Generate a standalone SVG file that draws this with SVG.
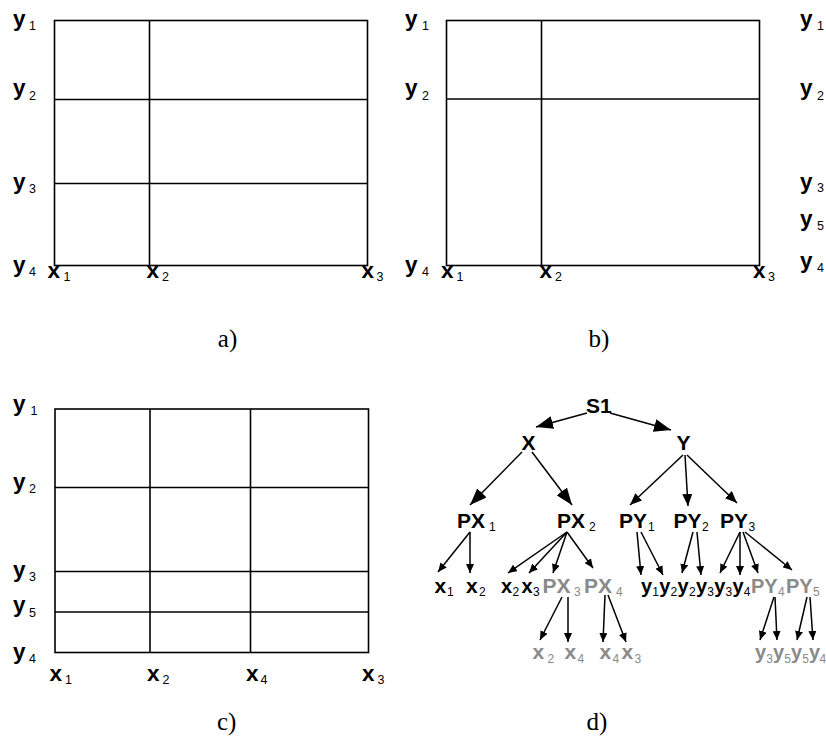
<svg xmlns="http://www.w3.org/2000/svg" width="826" height="738" viewBox="0 0 826 738">
<style>
.grid{fill:none;stroke:#000;stroke-width:1.6}
.lbl{font-family:"Liberation Sans",Arial,sans-serif;font-weight:bold;font-size:21px;fill:#000}
.gl{font-size:22.5px}
.lf{font-size:20px}
.sub{font-weight:normal;font-size:12px}
.gs{font-size:12.5px}
.g{fill:#8a8a8a}
.cap{font-family:"Liberation Serif","Times New Roman",serif;font-size:25px;fill:#000;text-anchor:middle}
.arr{stroke:#000;stroke-width:1.5;fill:none}
.big{marker-end:url(#hb)}
.mid{marker-end:url(#hm)}
.sm{marker-end:url(#hs)}
</style>
<defs>
<marker id="hb" markerUnits="userSpaceOnUse" viewBox="0 0 17 13" markerWidth="17" markerHeight="13" refX="17" refY="6.5" orient="auto"><path d="M0,0 L17,6.5 L0,13 z" fill="#000"/></marker>
<marker id="hm" markerUnits="userSpaceOnUse" viewBox="0 0 12 10" markerWidth="12" markerHeight="10" refX="12" refY="5" orient="auto"><path d="M0,0 L12,5 L0,10 z" fill="#000"/></marker>
<marker id="hs" markerUnits="userSpaceOnUse" viewBox="0 0 9 8" markerWidth="9" markerHeight="8" refX="9" refY="4" orient="auto"><path d="M0,0 L9,4 L0,8 z" fill="#000"/></marker>
</defs>
<rect width="826" height="738" fill="#fff"/>

<!-- Panel a -->
<g id="panel-a">
<rect class="grid" x="54.5" y="20.5" width="313" height="245"/>
<line class="grid" x1="149.5" y1="20.5" x2="149.5" y2="265.5"/>
<line class="grid" x1="54.5" y1="99.5" x2="367.5" y2="99.5"/>
<line class="grid" x1="54.5" y1="183.5" x2="367.5" y2="183.5"/>
<text class="lbl gl" x="13" y="26">y<tspan class="sub gs" x="29" y="30">1</tspan></text>
<text class="lbl gl" x="13" y="95">y<tspan class="sub gs" x="29" y="100">2</tspan></text>
<text class="lbl gl" x="13" y="189">y<tspan class="sub gs" x="29" y="193">3</tspan></text>
<text class="lbl gl" x="13" y="272">y<tspan class="sub gs" x="29" y="276">4</tspan></text>
<text class="lbl gl" x="47.5" y="278">x<tspan class="sub gs" x="63.5" y="280.5">1</tspan></text>
<text class="lbl gl" x="146.5" y="278">x<tspan class="sub gs" x="162" y="280.5">2</tspan></text>
<text class="lbl gl" x="361.5" y="278">x<tspan class="sub gs" x="376.5" y="280.5">3</tspan></text>
<text class="cap" x="227.5" y="347">a)</text>
</g>

<!-- Panel b -->
<g id="panel-b">
<rect class="grid" x="446.5" y="20.5" width="313" height="245"/>
<line class="grid" x1="541.5" y1="20.5" x2="541.5" y2="265.5"/>
<line class="grid" x1="446.5" y1="99" x2="759.5" y2="99"/>
<text class="lbl gl" x="405" y="26">y<tspan class="sub gs" x="422" y="30">1</tspan></text>
<text class="lbl gl" x="405" y="95">y<tspan class="sub gs" x="422" y="100">2</tspan></text>
<text class="lbl gl" x="405" y="272">y<tspan class="sub gs" x="422" y="276">4</tspan></text>
<text class="lbl gl" x="441" y="278">x<tspan class="sub gs" x="456.5" y="280.5">1</tspan></text>
<text class="lbl gl" x="539.5" y="278">x<tspan class="sub gs" x="555" y="280.5">2</tspan></text>
<text class="lbl gl" x="753" y="278">x<tspan class="sub gs" x="768" y="280.5">3</tspan></text>
<text class="lbl gl" x="800" y="26">y<tspan class="sub gs" x="817" y="30">1</tspan></text>
<text class="lbl gl" x="800" y="95">y<tspan class="sub gs" x="817" y="100">2</tspan></text>
<text class="lbl gl" x="800" y="189">y<tspan class="sub gs" x="817" y="192">3</tspan></text>
<text class="lbl gl" x="800" y="225.5">y<tspan class="sub gs" x="817" y="230">5</tspan></text>
<text class="lbl gl" x="800" y="268">y<tspan class="sub gs" x="817" y="272">4</tspan></text>
<text class="cap" x="599" y="347">b)</text>
</g>

<!-- Panel c -->
<g id="panel-c">
<rect class="grid" x="55" y="409" width="313.5" height="243.5"/>
<line class="grid" x1="150" y1="409" x2="150" y2="652.5"/>
<line class="grid" x1="250.5" y1="409" x2="250.5" y2="652.5"/>
<line class="grid" x1="55" y1="487.5" x2="368.5" y2="487.5"/>
<line class="grid" x1="55" y1="571.5" x2="368.5" y2="571.5"/>
<line class="grid" x1="55" y1="612" x2="368.5" y2="612"/>
<text class="lbl gl" x="13" y="411">y<tspan class="sub gs" x="30.5" y="415">1</tspan></text>
<text class="lbl gl" x="13" y="489">y<tspan class="sub gs" x="29" y="493">2</tspan></text>
<text class="lbl gl" x="13" y="577">y<tspan class="sub gs" x="29" y="581">3</tspan></text>
<text class="lbl gl" x="13" y="612">y<tspan class="sub gs" x="29" y="617">5</tspan></text>
<text class="lbl gl" x="13" y="659">y<tspan class="sub gs" x="29" y="663">4</tspan></text>
<text class="lbl gl" x="49.5" y="680.5">x<tspan class="sub gs" x="65" y="683.5">1</tspan></text>
<text class="lbl gl" x="147" y="680.5">x<tspan class="sub gs" x="162.5" y="683.5">2</tspan></text>
<text class="lbl gl" x="246" y="680.5">x<tspan class="sub gs" x="260.5" y="683.5">4</tspan></text>
<text class="lbl gl" x="362" y="680.5">x<tspan class="sub gs" x="377.5" y="683.5">3</tspan></text>
<text class="cap" x="226.7" y="730">c)</text>
</g>

<!-- Panel d: tree connectors -->
<g id="connectors">
<line class="arr big" x1="587" y1="413" x2="536" y2="427"/>
<line class="arr big" x1="610" y1="413" x2="671" y2="430"/>
<line class="arr big" x1="522" y1="452" x2="470" y2="505"/>
<line class="arr big" x1="532" y1="452" x2="572" y2="505"/>
<line class="arr mid" x1="683" y1="455" x2="630" y2="505"/>
<line class="arr mid" x1="685" y1="455" x2="688" y2="506"/>
<line class="arr mid" x1="687" y1="455" x2="737" y2="503"/>
<line class="arr sm" x1="470" y1="532" x2="438" y2="572"/>
<line class="arr sm" x1="470" y1="532" x2="470" y2="573"/>
<line class="arr sm" x1="567" y1="532" x2="508" y2="573"/>
<line class="arr sm" x1="567" y1="532" x2="529" y2="573"/>
<line class="arr sm" x1="567" y1="532" x2="553" y2="573"/>
<line class="arr sm" x1="567" y1="532" x2="593" y2="568"/>
<line class="arr sm" x1="562" y1="597" x2="540" y2="640"/>
<line class="arr sm" x1="568" y1="597" x2="568" y2="642"/>
<line class="arr sm" x1="605" y1="595" x2="603" y2="642"/>
<line class="arr sm" x1="608" y1="595" x2="626" y2="642"/>
<line class="arr sm" x1="637" y1="532" x2="641" y2="575"/>
<line class="arr sm" x1="641" y1="532" x2="663" y2="575"/>
<line class="arr sm" x1="693" y1="532" x2="682" y2="573"/>
<line class="arr sm" x1="697" y1="532" x2="701" y2="575"/>
<line class="arr sm" x1="740" y1="532" x2="720" y2="573"/>
<line class="arr sm" x1="740" y1="532" x2="740" y2="575"/>
<line class="arr sm" x1="743" y1="532" x2="758" y2="573"/>
<line class="arr sm" x1="745" y1="532" x2="792" y2="570"/>
<line class="arr sm" x1="774" y1="597" x2="760" y2="640"/>
<line class="arr sm" x1="775" y1="597" x2="777" y2="640"/>
<line class="arr sm" x1="807" y1="597" x2="797" y2="640"/>
<line class="arr sm" x1="810" y1="597" x2="813" y2="640"/>
</g>

<!-- Panel d: tree nodes -->
<g id="n-S1"><text class="lbl" x="586" y="413">S1</text></g>
<g id="n-X"><text class="lbl" x="521.5" y="450">X</text></g>
<g id="n-Y"><text class="lbl" x="676.5" y="450">Y</text></g>
<g id="n-PX1"><text class="lbl" x="457" y="528">PX<tspan class="sub" x="489" y="531">1</tspan></text></g>
<g id="n-PX2"><text class="lbl" x="557" y="528">PX<tspan class="sub" x="589" y="531">2</tspan></text></g>
<g id="n-PY1"><text class="lbl" x="619" y="528">PY<tspan class="sub" x="648" y="531">1</tspan></text></g>
<g id="n-PY2"><text class="lbl" x="673.5" y="528">PY<tspan class="sub" x="702" y="531">2</tspan></text></g>
<g id="n-PY3"><text class="lbl" x="720" y="528">PY<tspan class="sub" x="748.5" y="531">3</tspan></text></g>

<g id="n-x1a"><text class="lbl" x="434.5" y="592.5">x<tspan class="sub" x="447" y="595.5">1</tspan></text></g>
<g id="n-x2a"><text class="lbl" x="466" y="592.5">x<tspan class="sub" x="479" y="595.5">2</tspan></text></g>
<g id="n-x2b"><text class="lbl lf" x="501" y="592.5">x<tspan class="sub" x="512.5" y="595.5">2</tspan></text></g>
<g id="n-x3a"><text class="lbl lf" x="521.5" y="592.5">x<tspan class="sub" x="533" y="595.5">3</tspan></text></g>
<g id="n-PX3"><text class="lbl g" x="542.5" y="592.5">PX<tspan class="sub" x="574" y="595.5">3</tspan></text></g>
<g id="n-PX4"><text class="lbl g" x="584" y="592.5">PX<tspan class="sub" x="616" y="595.5">4</tspan></text></g>
<g id="n-y1a"><text class="lbl lf" x="641" y="592.5">y<tspan class="sub" x="652.3" y="595.5">1</tspan></text></g>
<g id="n-y2a"><text class="lbl lf" x="659.3" y="592.5">y<tspan class="sub" x="670.6" y="595.5">2</tspan></text></g>
<g id="n-y2b"><text class="lbl lf" x="677.6" y="592.5">y<tspan class="sub" x="688.9" y="595.5">2</tspan></text></g>
<g id="n-y3a"><text class="lbl lf" x="695.9" y="592.5">y<tspan class="sub" x="707.2" y="595.5">3</tspan></text></g>
<g id="n-y3b"><text class="lbl lf" x="714.2" y="592.5">y<tspan class="sub" x="725.5" y="595.5">3</tspan></text></g>
<g id="n-y4a"><text class="lbl lf" x="732.5" y="592.5">y<tspan class="sub" x="743.8" y="595.5">4</tspan></text></g>
<g id="n-PY4"><text class="lbl g lf" x="751" y="592.5">PY<tspan class="sub" x="778" y="595.5">4</tspan></text></g>
<g id="n-PY5"><text class="lbl g lf" x="786" y="592.5">PY<tspan class="sub" x="813" y="595.5">5</tspan></text></g>

<g id="n-x2c"><text class="lbl g" x="532.5" y="659">x<tspan class="sub" x="547.5" y="662.5">2</tspan></text></g>
<g id="n-x4a"><text class="lbl g" x="564.5" y="659">x<tspan class="sub" x="577.5" y="662.5">4</tspan></text></g>
<g id="n-x4b"><text class="lbl g" x="599.5" y="659">x<tspan class="sub" x="612.5" y="662.5">4</tspan></text></g>
<g id="n-x3b"><text class="lbl g" x="621.5" y="659">x<tspan class="sub" x="634.5" y="662.5">3</tspan></text></g>
<g id="n-y3c"><text class="lbl g lf" x="755" y="659">y<tspan class="sub" x="766.3" y="662.5">3</tspan></text></g>
<g id="n-y5a"><text class="lbl g lf" x="773" y="659">y<tspan class="sub" x="784.3" y="662.5">5</tspan></text></g>
<g id="n-y5b"><text class="lbl g lf" x="791" y="659">y<tspan class="sub" x="802.3" y="662.5">5</tspan></text></g>
<g id="n-y4b"><text class="lbl g lf" x="809" y="659">y<tspan class="sub" x="819.5" y="662.5">4</tspan></text></g>

<g id="caption-d"><text class="cap" x="597" y="730">d)</text></g>
</svg>
